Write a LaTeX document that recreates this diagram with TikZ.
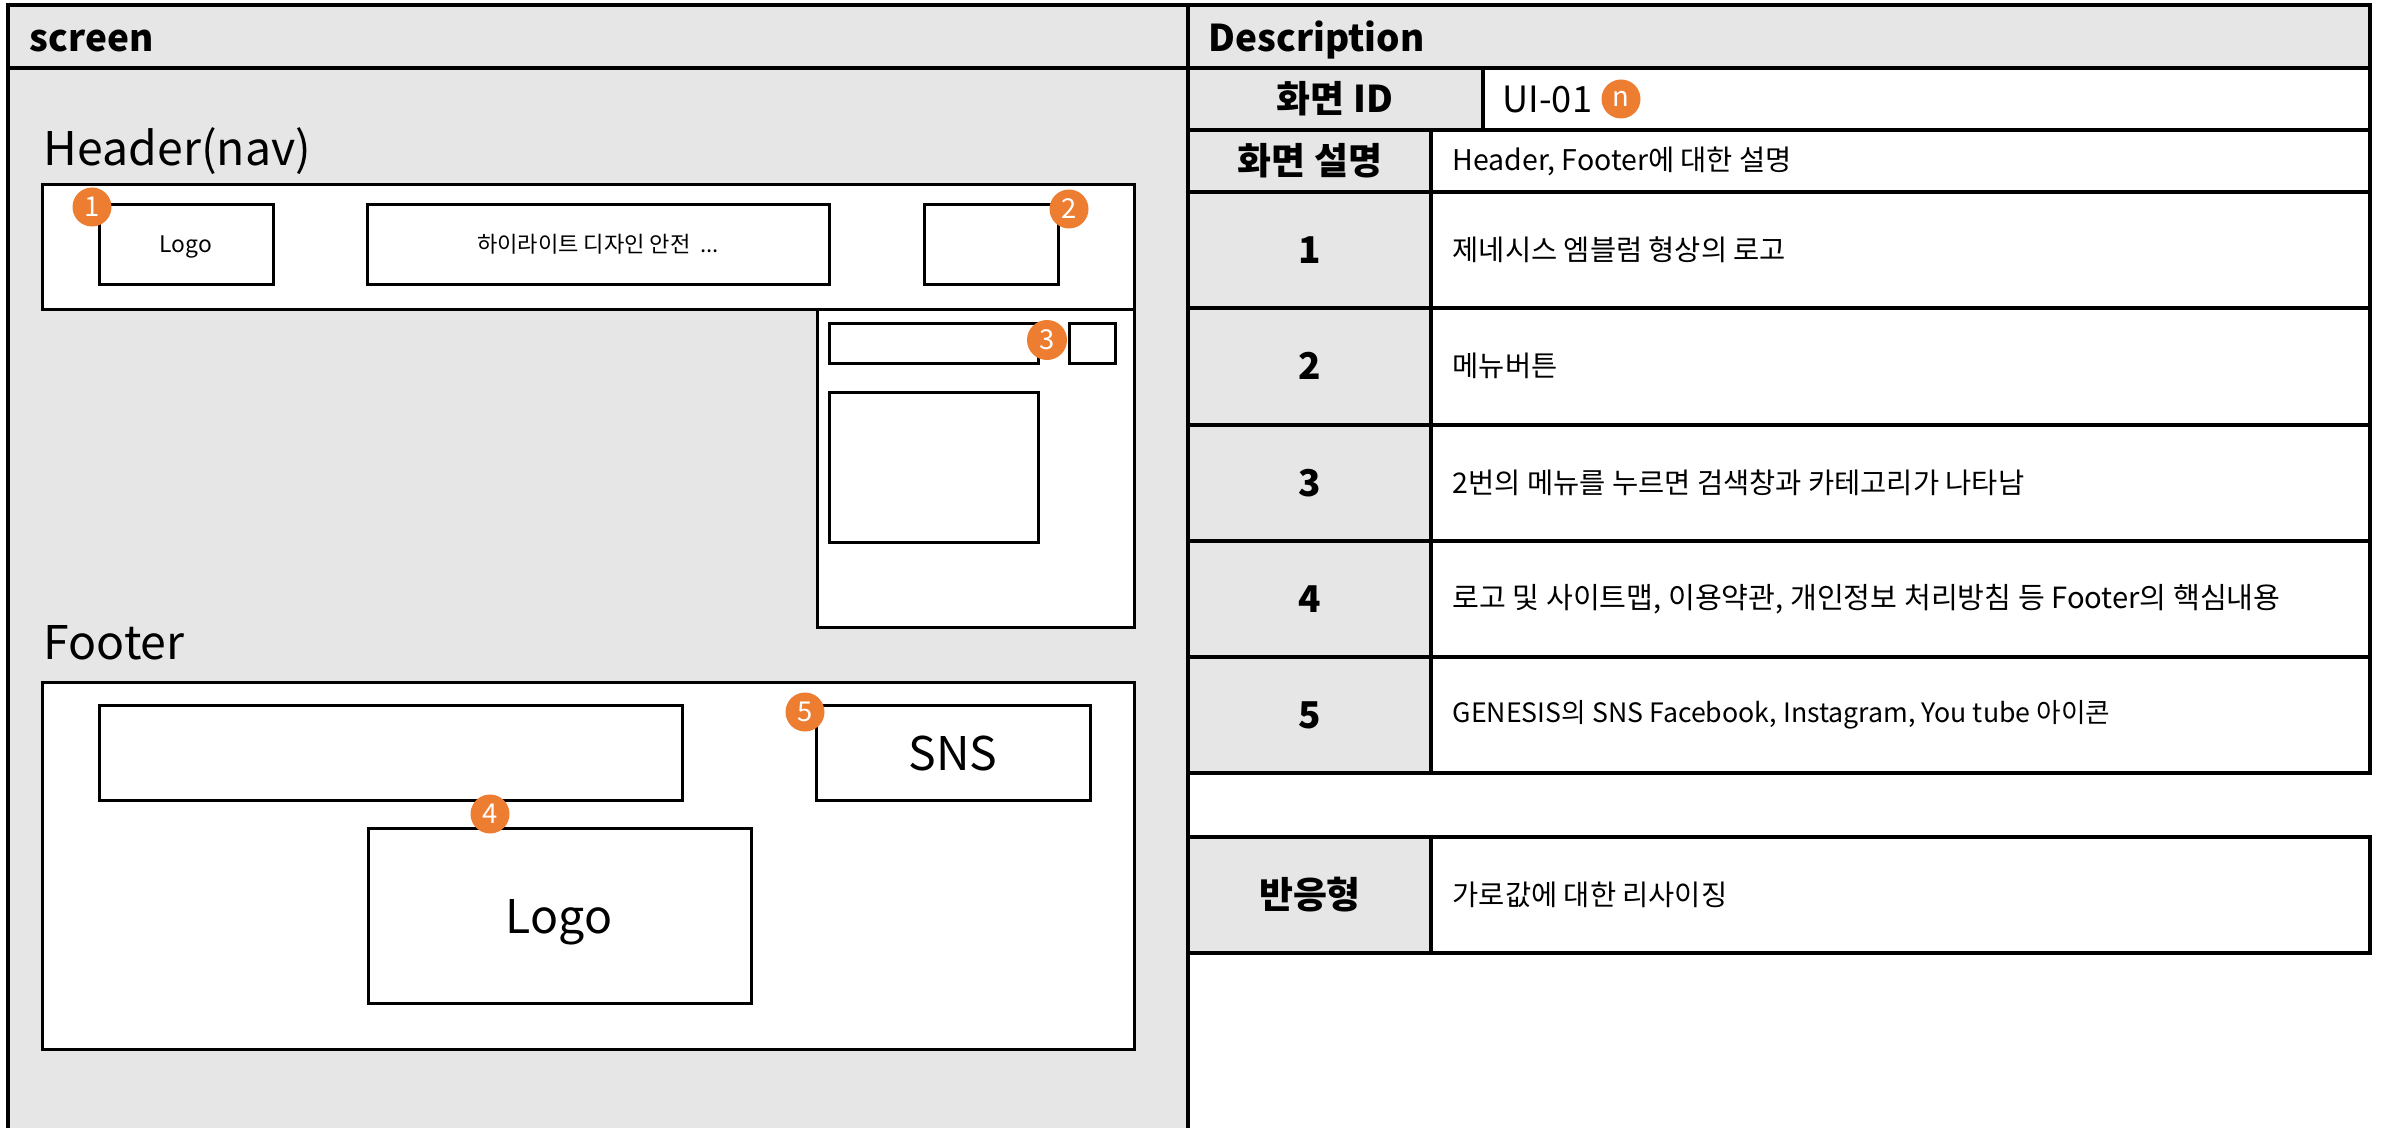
\documentclass[tikz,border=0pt]{standalone}
\usepackage{fontspec}
\setmainfont{Noto Sans CJK KR}
\usepackage{tikz}
\definecolor{panelgray}{RGB}{230,230,230}
\definecolor{badgeorange}{RGB}{237,125,49}
\tikzstyle{frameline}=[draw=black,line width=0.35mm]
\tikzstyle{wire}=[draw=black,fill=white,line width=0.3mm]
\tikzstyle{badge}=[circle,fill=badgeorange,text=white,minimum size=3.9mm,inner sep=0pt,font=\fontsize{7.8}{8}\selectfont]
\tikzstyle{headtitle}=[anchor=base west,inner sep=0pt,font=\fontsize{10.5}{11}\bfseries\selectfont]
\tikzstyle{section}=[anchor=base west,inner sep=0pt,font=\fontsize{13.2}{14}\selectfont]
\tikzstyle{rowhead}=[font=\fontsize{10.5}{11}\bfseries\selectfont]
\tikzstyle{desc}=[anchor=west,inner sep=0pt,font=\fontsize{8.1}{9}\selectfont]

\begin{document}
\begin{tikzpicture}[x=0.1mm,y=-0.1mm]
\useasboundingbox (0,0) rectangle (2382,1128);
% background
\fill[white] (0,0) rectangle (2382,1128);
\fill[panelgray] (8,5) rectangle (2370,68);
\fill[panelgray] (8,68) rectangle (1188,1140);
\node[headtitle] (scrtitle) at (29,52) {screen};
\node[headtitle] (desctitle) at (1208,52) {Description};

% header(nav)
\node[section] (hdrtitle) at (43,166) {Header(nav)};
\draw[wire] (42,185) rectangle (1134,309);
\draw[wire] (99,205) rectangle (273,284);
\draw[wire] (367,205) rectangle (829,284);
\draw[wire] (924,205) rectangle (1058,284);
\node[anchor=base,font=\fontsize{6.5}{7}\selectfont] (hlogo) at (186,252) {Logo};
\node[anchor=base,font=\fontsize{6.3}{7}\selectfont] (hlight) at (598,252) {하이라이트 디자인 안전 \ ...};
\draw[wire] (817,309) rectangle (1134,627);
\draw[wire] (829,323) rectangle (1038,363);
\draw[wire] (1069,323) rectangle (1115,363);
\draw[wire] (829,392) rectangle (1038,542);

% footer
\node[section] (ftrtitle) at (43,659) {Footer};
\draw[wire] (42,682) rectangle (1134,1049);
\draw[wire] (99,705) rectangle (682,800);
\draw[wire] (816,705) rectangle (1090,800);
\draw[wire] (368,828) rectangle (751,1003);
\node[anchor=base,font=\fontsize{13.2}{14}\selectfont] (sns) at (953,770) {SNS};
\node[anchor=base,font=\fontsize{13.2}{14}\selectfont] (flogo) at (559,933) {Logo};

% badges
\node[badge] (b1) at (92,207) {1};
\node[badge] (b2) at (1069,209) {2};
\node[badge,minimum size=4mm] (b3) at (1047,340) {3};
\node[badge] (b4) at (490,814) {4};
\node[badge] (b5) at (805,712) {5};

% description table
\filldraw[frameline,fill=panelgray] (1188,68) rectangle (1483,130);
\draw[frameline] (1483,68) rectangle (2370,130);
\node[rowhead] (idhead) at (1335,99) {화면 ID};
\node[anchor=west,inner sep=0pt,font=\fontsize{10.3}{11}\selectfont] (idval) at (1502,99) {UI-01};
\node[badge] (bn) at (1621,99) {n};

\filldraw[frameline,fill=panelgray] (1188,130) rectangle (1431,192);
\draw[frameline] (1431,130) rectangle (2370,192);
\node[rowhead] (exphead) at (1310,161) {화면 설명};
\node[desc] (expval) at (1452,161) {Header, Footer에 대한 설명};

\filldraw[frameline,fill=panelgray] (1188,192) rectangle (1431,308);
\draw[frameline] (1431,192) rectangle (2370,308);
\node[rowhead] (r1head) at (1310,250) {1};
\node[desc] (r1val) at (1452,250) {제네시스 엠블럼 형상의 로고};

\filldraw[frameline,fill=panelgray] (1188,308) rectangle (1431,425);
\draw[frameline] (1431,308) rectangle (2370,425);
\node[rowhead] (r2head) at (1310,366) {2};
\node[desc] (r2val) at (1452,366) {메뉴버튼};

\filldraw[frameline,fill=panelgray] (1188,425) rectangle (1431,541);
\draw[frameline] (1431,425) rectangle (2370,541);
\node[rowhead] (r3head) at (1310,483) {3};
\node[desc] (r3val) at (1452,483) {2번의 메뉴를 누르면 검색창과 카테고리가 나타남};

\filldraw[frameline,fill=panelgray] (1188,541) rectangle (1431,657);
\draw[frameline] (1431,541) rectangle (2370,657);
\node[rowhead] (r4head) at (1310,599) {4};
\node[desc,font=\fontsize{8.3}{9}\selectfont] (r4val) at (1452,599) {로고 및 사이트맵, 이용약관, 개인정보 처리방침 등 Footer의 핵심내용};

\filldraw[frameline,fill=panelgray] (1188,657) rectangle (1431,773);
\draw[frameline] (1431,657) rectangle (2370,773);
\node[rowhead] (r5head) at (1310,715) {5};
\node[desc,font=\fontsize{7.6}{8}\selectfont] (r5val) at (1452,715) {GENESIS의 SNS Facebook, Instagram, You tube 아이콘};

\filldraw[frameline,fill=panelgray] (1188,837) rectangle (1431,953);
\draw[frameline] (1431,837) rectangle (2370,953);
\node[rowhead] (resphead) at (1310,895) {반응형};
\node[desc] (respval) at (1452,895) {가로값에 대한 리사이징};

% frame lines
\draw[frameline] (8,1140) -- (8,5) -- (2370,5) -- (2370,68);
\draw[frameline] (8,68) -- (2370,68);
\draw[frameline] (1188,5) -- (1188,1140);
\end{tikzpicture}
\end{document}
